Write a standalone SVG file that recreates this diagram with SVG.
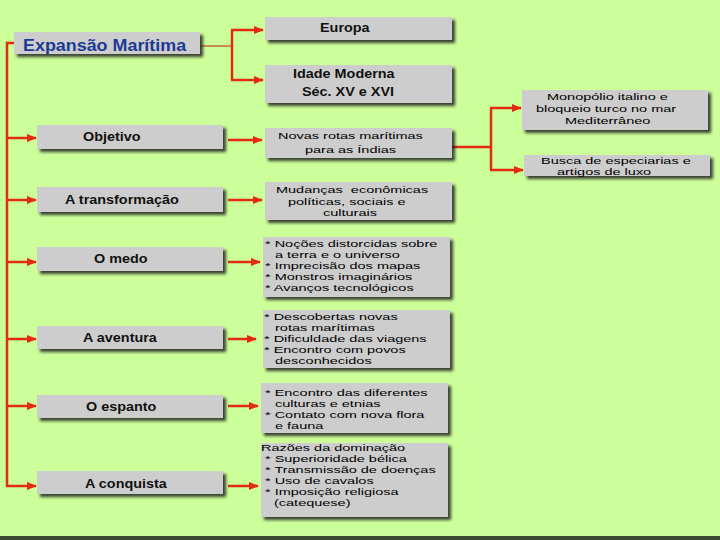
<svg xmlns="http://www.w3.org/2000/svg" width="720" height="540" viewBox="0 0 720 540">
<style>
.box{fill:#cdcdcd;filter:url(#sh)}
.t{font-family:"Liberation Sans",Arial,sans-serif;font-size:9.8px;fill:#000;transform-box:fill-box;transform-origin:0 50%;transform:scaleX(1.48)}
.b{font-family:"Liberation Sans",Arial,sans-serif;font-size:12px;font-weight:bold;fill:#111;transform-box:fill-box;transform-origin:0 50%;transform:scaleX(1.2)}
.title{font-family:"Liberation Sans",Arial,sans-serif;font-size:16px;font-weight:bold;fill:#1c3a94;transform-box:fill-box;transform-origin:0 50%;transform:scaleX(1.12)}
.c{fill:none;stroke:#e42a12;stroke-width:2.5}
.a{fill:none;stroke:#e42a12;stroke-width:2.5;marker-end:url(#ah)}
.thin{fill:none;stroke:#c8401a;stroke-width:1.2}
</style>
<defs>
<filter id="sh" x="-5%" y="-20%" width="115%" height="170%">
<feDropShadow dx="3" dy="3" stdDeviation="1.6" flood-color="#1e1e1e" flood-opacity="0.85"/>
</filter>
<marker id="ah" markerUnits="userSpaceOnUse" markerWidth="10" markerHeight="8" refX="9" refY="4" orient="auto">
<path d="M0,0 L10,4 L0,8 Z" fill="#e42a12"/>
</marker>
</defs>
<rect width="720" height="540" fill="#ccff99"/>
<rect y="536" width="720" height="4" fill="#3c4a34"/>

<g id="connectors">
<path class="thin" d="M200,46 H232"/>
<path class="c" d="M232,30 V80"/>
<path class="a" d="M231,30 H263"/>
<path class="a" d="M231,80 H263"/>
<path class="c" d="M14,43 H7 V487"/>
<path class="a" d="M6,138 H36"/>
<path class="a" d="M6,200 H36"/>
<path class="a" d="M6,262 H36"/>
<path class="a" d="M6,339 H36"/>
<path class="a" d="M6,406 H36"/>
<path class="a" d="M6,486 H36"/>
<path class="a" d="M228,140 H262"/>
<path class="a" d="M228,200 H262"/>
<path class="a" d="M228,262 H260"/>
<path class="a" d="M228,339 H256"/>
<path class="a" d="M228,406 H258"/>
<path class="a" d="M228,486 H258"/>
<path class="c" d="M452,147 H491"/>
<path class="c" d="M491,108 V170"/>
<path class="a" d="M490,108 H521"/>
<path class="a" d="M490,170 H523"/>
</g>

<g id="expansao"><rect class="box" x="14" y="32" width="186" height="22"/><text class="title" x="23" y="51">Expansão Marítima</text></g>
<g id="europa"><rect class="box" x="265" y="17" width="187" height="23"/><text class="b" x="320" y="32">Europa</text></g>
<g id="idade"><rect class="box" x="265" y="65" width="187" height="38"/><text class="b" x="293" y="78">Idade Moderna</text><text class="b" x="302" y="96">Séc. XV e XVI</text></g>
<g id="monopolio"><rect class="box" x="522" y="90" width="186" height="40"/><text class="t" x="547" y="100">Monopólio italino e</text><text class="t" x="536" y="112">bloqueio turco no mar</text><text class="t" x="565" y="124">Mediterrâneo</text></g>
<g id="busca"><rect class="box" x="524" y="155" width="186" height="21"/><text class="t" x="541" y="164">Busca de especiarias e</text><text class="t" x="557" y="175">artigos de luxo</text></g>

<g id="objetivo"><rect class="box" x="37" y="125" width="186" height="24"/><text class="b" x="83" y="141">Objetivo</text></g>
<g id="transformacao"><rect class="box" x="37" y="187" width="186" height="25"/><text class="b" x="65" y="204">A transformação</text></g>
<g id="medo"><rect class="box" x="37" y="247" width="186" height="24"/><text class="b" x="94" y="263">O medo</text></g>
<g id="aventura"><rect class="box" x="37" y="326" width="186" height="23"/><text class="b" x="83" y="342">A aventura</text></g>
<g id="espanto"><rect class="box" x="37" y="395" width="186" height="23"/><text class="b" x="86" y="411">O espanto</text></g>
<g id="conquista"><rect class="box" x="37" y="471" width="186" height="23"/><text class="b" x="85" y="488">A conquista</text></g>

<g id="novas-rotas"><rect class="box" x="265" y="128" width="187" height="30"/><text class="t" x="278" y="139">Novas rotas marítimas</text><text class="t" x="305" y="153">para as Índias</text></g>
<g id="mudancas"><rect class="box" x="265" y="182" width="187" height="38"/><text class="t" x="276" y="193" xml:space="preserve">Mudanças  econômicas</text><text class="t" x="288" y="205">políticas, sociais e</text><text class="t" x="323" y="216">culturais</text></g>
<g id="medo-lista"><rect class="box" x="263" y="237" width="187" height="60"/>
<text class="t" x="265" y="247">* Noções distorcidas sobre</text>
<text class="t" x="275" y="258">a terra e o universo</text>
<text class="t" x="265" y="269">* Imprecisão dos mapas</text>
<text class="t" x="265" y="280">* Monstros imaginários</text>
<text class="t" x="265" y="291">* Avanços tecnológicos</text></g>
<g id="aventura-lista"><rect class="box" x="263" y="310" width="187" height="58"/>
<text class="t" x="264" y="320">* Descobertas novas</text>
<text class="t" x="275" y="331">rotas marítimas</text>
<text class="t" x="264" y="342">* Dificuldade das viagens</text>
<text class="t" x="264" y="353">* Encontro com povos</text>
<text class="t" x="275" y="364">desconhecidos</text></g>
<g id="espanto-lista"><rect class="box" x="261" y="383" width="187" height="50"/>
<text class="t" x="265" y="396">* Encontro das diferentes</text>
<text class="t" x="275" y="407">culturas e etnias</text>
<text class="t" x="265" y="418">* Contato com nova flora</text>
<text class="t" x="275" y="429">e fauna</text></g>
<g id="conquista-lista"><rect class="box" x="261" y="443" width="187" height="74"/>
<text class="t" x="261" y="451">Razões da dominação</text>
<text class="t" x="265" y="462">* Superioridade bélica</text>
<text class="t" x="265" y="473">* Transmissão de doenças</text>
<text class="t" x="265" y="484">* Uso de cavalos</text>
<text class="t" x="265" y="495">* Imposição religiosa</text>
<text class="t" x="274" y="506">(catequese)</text></g>
</svg>
